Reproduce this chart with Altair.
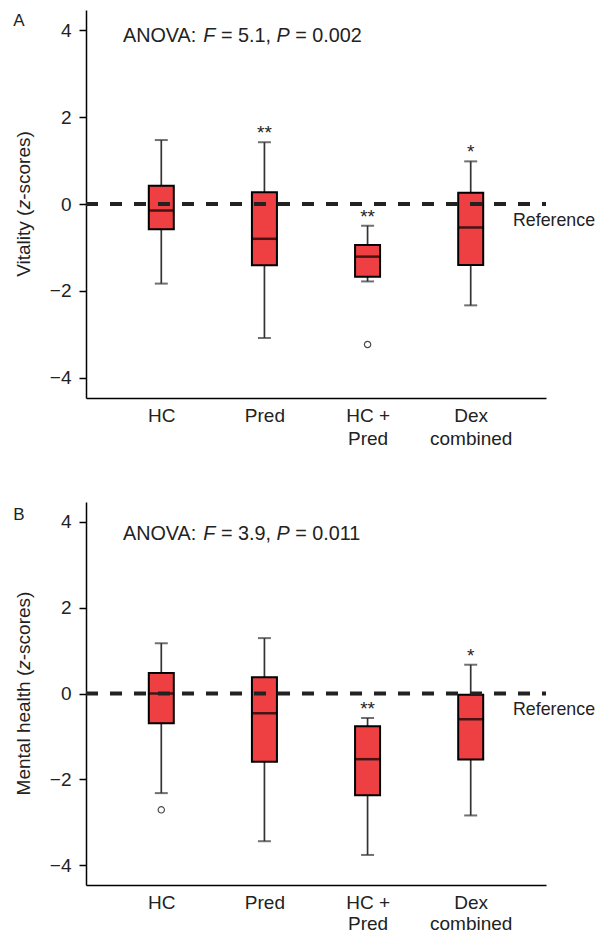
import altair as alt
import pandas as pd

FONT = "Liberation Sans"
TXT = "#222222"
RED = "#ee4043"

categories = ["HC", "Pred", "HC + Pred", "Dex combined"]
label_lines = {"HC + Pred": ["HC +", "Pred"], "Dex combined": ["Dex", "combined"]}

# Panel A: Vitality
vit_lo = [-1.83, -3.08, -1.78, -2.33]
vit_q1 = [-0.58, -1.41, -1.67, -1.40]
vit_med = [-0.15, -0.80, -1.21, -0.54]
vit_q3 = [0.42, 0.27, -0.94, 0.26]
vit_hi = [1.47, 1.42, -0.50, 0.98]
vit_stars = ["", "**", "**", "*"]
vit_out_cat = ["HC + Pred"]
vit_out_val = [-3.23]

# Panel B: Mental health
mh_lo = [-2.32, -3.44, -3.76, -2.84]
mh_q1 = [-0.69, -1.59, -2.37, -1.54]
mh_med = [0.0, -0.46, -1.53, -0.60]
mh_q3 = [0.48, 0.38, -0.76, -0.03]
mh_hi = [1.17, 1.29, -0.57, 0.67]
mh_stars = ["", "", "**", "*"]
mh_out_cat = ["HC"]
mh_out_val = [-2.71]

W = 460

# Arial / Liberation Sans advance widths (per 1000 em)
CW = {"A": 667, "N": 722, "O": 778, "V": 667, "F": 611, "P": 667, "R": 722, "M": 833,
      "a": 556, "c": 500, "e": 556, "h": 556, "i": 222, "l": 222, "n": 556, "o": 556,
      "r": 333, "s": 500, "t": 278, "y": 500, "z": 500, " ": 278, ":": 278, "(": 333,
      ")": 333, "-": 333, "=": 584, ".": 278, ",": 278}
for d in "0123456789":
    CW[d] = 556


def tw(s, size):
    return sum(CW.get(ch, 556) for ch in s) * size / 1000.0


def rich_pieces(parts, size):
    rows, pos = [], 0.0
    for text, style in parts:
        lead = len(text) - len(text.lstrip(" "))
        rows.append({"t": text.strip(" "), "s": style, "o": pos + tw(" " * lead, size)})
        pos += tw(text, size)
    return rows, pos


label_expr = " : ".join(
    f"datum.label == '{k}' ? {v!r}" for k, v in label_lines.items()
) + " : datum.label"


def panel(letter, letter_y, H, line_h, title_parts, anova_parts, anova_y,
          lo, q1, med, q3, hi, stars, out_cat, out_val):
    df = pd.DataFrame({"cat": categories, "lo": lo, "q1": q1, "med": med, "q3": q3, "hi": hi, "stars": stars})
    yscale = alt.Scale(domain=[-4.46, 4.46], nice=False, zero=False)
    yaxis = alt.Axis(values=[-4, -2, 0, 2, 4], title=None, grid=False, domainColor="black", domainWidth=1.5,
                     tickColor="black", tickWidth=1.5, tickSize=7, labelPadding=8, labelFontSize=19,
                     labelFont=FONT, labelColor=TXT, labelFontWeight="normal")
    xaxis = alt.Axis(title=None, ticks=False, tickSize=0, domainColor="black", domainWidth=1.5, labelPadding=8,
                     labelFontSize=19, labelFont=FONT, labelColor=TXT, labelLineHeight=line_h, labelAngle=0,
                     labelFontWeight="normal", labelExpr=label_expr)
    xsc = alt.Scale(type="point", padding=0.73)
    x = alt.X("cat:N", sort=categories, scale=xsc, axis=xaxis)

    def Y(field):
        return alt.Y(field, scale=yscale, axis=yaxis)

    base = alt.Chart(df)
    whisk = base.mark_rule(color="#333333", strokeWidth=1.7).encode(x=x, y=Y("lo:Q"), y2="hi:Q")
    cap_hi = base.mark_tick(color="#333333", size=13, thickness=2).encode(x=x, y=Y("hi:Q"))
    cap_lo = base.mark_tick(color="#333333", size=13, thickness=2).encode(x=x, y=Y("lo:Q"))
    box = base.mark_bar(size=25, color=RED, stroke="black", strokeWidth=2).encode(x=x, y=Y("q1:Q"), y2="q3:Q")
    median = base.mark_tick(color="black", size=25, thickness=2.5).encode(x=x, y=Y("med:Q"))
    star = base.mark_text(font=FONT, fontSize=19, color=TXT, baseline="alphabetic", align="center", dy=-3).encode(
        x=x, y=Y("hi:Q"), text="stars:N")
    outl = alt.Chart(pd.DataFrame({"cat": out_cat, "v": out_val})).mark_point(
        shape="circle", filled=False, size=40, color="black", strokeWidth=1.2).encode(x=x, y=Y("v:Q"))
    ref = alt.Chart(pd.DataFrame({"v": [0]})).mark_rule(
        color="#222222", strokeWidth=4, strokeDash=[12, 12]).encode(
        y=Y("v:Q"), x=alt.value(0), x2=alt.value(W))
    ref_txt = alt.Chart(pd.DataFrame({"v": [0], "t": ["Reference"]})).mark_text(
        font=FONT, fontSize=17.8, color=TXT, align="left", baseline="middle", dy=16.5).encode(
        y=Y("v:Q"), x=alt.value(427), text="t:N")

    # rich y title (rotated)
    size_t = 19
    trows, tlen = rich_pieces(title_parts, size_t)
    tdf = pd.DataFrame(trows)
    tdf["y"] = H / 2 + tlen / 2 - tdf["o"]
    ytitle_n = alt.Chart(tdf[tdf.s == "normal"]).mark_text(
        font=FONT, fontSize=size_t, color=TXT, angle=270, align="left", baseline="middle").encode(
        x=alt.value(-62), y=alt.Y("y:Q", scale=None), text="t:N")
    ytitle_i = alt.Chart(tdf[tdf.s == "italic"]).mark_text(
        font=FONT, fontSize=size_t, color=TXT, angle=270, align="left", baseline="middle",
        fontStyle="italic").encode(x=alt.value(-62), y=alt.Y("y:Q", scale=None), text="t:N")

    # rich ANOVA text
    size_a = 19.8
    arows, _ = rich_pieces(anova_parts, size_a)
    adf = pd.DataFrame(arows)
    adf["x"] = 37 + adf["o"]
    an_n = alt.Chart(adf[adf.s == "normal"]).mark_text(
        font=FONT, fontSize=size_a, color=TXT, align="left", baseline="middle").encode(
        x=alt.X("x:Q", scale=None), y=alt.value(anova_y), text="t:N")
    an_i = alt.Chart(adf[adf.s == "italic"]).mark_text(
        font=FONT, fontSize=size_a, color=TXT, align="left", baseline="middle", fontStyle="italic").encode(
        x=alt.X("x:Q", scale=None), y=alt.value(anova_y), text="t:N")

    lett = alt.Chart(pd.DataFrame({"t": [letter]})).mark_text(
        font=FONT, fontSize=17, color=TXT, align="center", baseline="middle").encode(
        x=alt.value(-67), y=alt.value(letter_y), text="t:N")

    return alt.layer(whisk, cap_hi, cap_lo, box, median, outl, ref, star, ref_txt,
                     ytitle_n, ytitle_i, an_n, an_i, lett).properties(width=W, height=H)


pa = panel("A", 11, 388, 23, [("Vitality (", "normal"), ("z", "italic"), ("-scores)", "normal")],
           [("ANOVA: ", "normal"), ("F", "italic"), (" = 5.1, ", "normal"), ("P", "italic"), (" = 0.002", "normal")],
           26, vit_lo, vit_q1, vit_med, vit_q3, vit_hi, vit_stars, vit_out_cat, vit_out_val)
pb = panel("B", 13, 383, 21, [("Mental health (", "normal"), ("z", "italic"), ("-scores)", "normal")],
           [("ANOVA: ", "normal"), ("F", "italic"), (" = 3.9, ", "normal"), ("P", "italic"), (" = 0.011", "normal")],
           32, mh_lo, mh_q1, mh_med, mh_q3, mh_hi, mh_stars, mh_out_cat, mh_out_val)

chart = alt.vconcat(pa, pb, spacing=54).properties(
    padding={"left": 5, "top": 2, "right": 0, "bottom": 0}
).configure_view(stroke=None).resolve_scale(x="independent", y="independent")

chart.save("out.html", embed_options={"renderer": "svg", "actions": False})
